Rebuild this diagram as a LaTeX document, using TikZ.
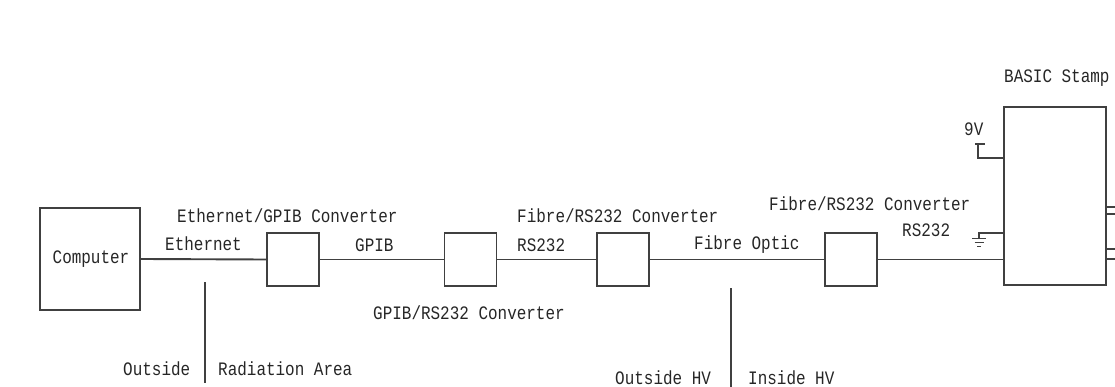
\documentclass[tikz,border=0pt]{standalone}
\usepackage{fontspec}
\setmonofont[FakeStretch=0.84]{Liberation Mono}
\begin{document}
\begin{tikzpicture}[x=1pt,y=-1pt,
  ln/.style={draw=black!75,line width=1.9pt},
  blk/.style={ln,rectangle,inner sep=0pt,fill=white},
  lbl/.style={anchor=west,inner sep=0pt,text=black!85,font=\ttfamily\fontsize{19}{19}\selectfont}]
\useasboundingbox (0,0) rectangle (1115,387);
% boxes
\node[blk,minimum width=100pt,minimum height=102pt] (comp) at (90,259) {};
\node[lbl,anchor=center] (comptxt) at (91,259) {Computer};
\node[blk,minimum width=52pt,minimum height=53pt] (b1) at (293,259.5) {};
\node[blk,minimum width=52pt,minimum height=53pt] (b2) at (470.5,259.5) {};
\node[blk,minimum width=52pt,minimum height=53pt] (b3) at (623,259.5) {};
\node[blk,minimum width=52pt,minimum height=53pt] (b4) at (851,259.5) {};
\node[blk,minimum width=102pt,minimum height=178pt] (stamp) at (1055,196) {};
% main connectors
\draw[ln] (comp.east) -- (b1.west);
\draw[ln] (b1.east) -- (b2.west);
\draw[ln] (b2.east) -- (b3.west);
\draw[ln] (b3.east) -- (b4.west);
\draw[ln] (b4.east) -- (b4.east -| stamp.west);
% right outputs
\coordinate (o1) at (1116,207);
\coordinate (o2) at (1116,214);
\coordinate (o3) at (1116,249);
\coordinate (o4) at (1116,259);
\draw[ln] (o1 -| stamp.east) -- (o1);
\draw[ln] (o2 -| stamp.east) -- (o2);
\draw[ln] (o3 -| stamp.east) -- (o3);
\draw[ln] (o4 -| stamp.east) -- (o4);
% 9V supply
\coordinate (vt) at (978,144);
\draw[ln] (975,144) -- (985,144);
\draw[ln] (vt) -- (978,158) -- (978,158 -| stamp.west);
% ground
\coordinate (gt) at (979,233);
\draw[ln] (gt -| stamp.west) -- (gt) -- (979,238.5);
\draw[ln] (972,238.5) -- (986,238.5);
\draw[ln] (974.5,242.5) -- (983.5,242.5);
\draw[ln] (977,246.5) -- (981,246.5);
% dividers
\draw[ln] (205,282) -- (205,383);
\draw[ln] (731,288) -- (731,388);
% labels
\node[lbl] (l1) at (177,216) {Ethernet/GPIB Converter};
\node[lbl] (l2) at (165,244) {Ethernet};
\node[lbl] (l3) at (355,245) {GPIB};
\node[lbl] (l4) at (517,245) {RS232};
\node[lbl] (l5) at (517,216) {Fibre/RS232 Converter};
\node[lbl] (l6) at (373,313) {GPIB/RS232 Converter};
\node[lbl] (l7) at (694,245) {Fibre Optic};
\node[lbl] (l8) at (769,204) {Fibre/RS232 Converter};
\node[lbl] (l9) at (902,230) {RS232};
\node[lbl] (l10) at (964,129) {9V};
\node[lbl] (l11) at (1004,78) {BASIC Stamp};
\node[lbl] (l12) at (123,369) {Outside};
\node[lbl] (l13) at (218,369) {Radiation Area};
\node[lbl] (l14) at (615,378) {Outside HV};
\node[lbl] (l15) at (748,378) {Inside HV};
\end{tikzpicture}
\end{document}
